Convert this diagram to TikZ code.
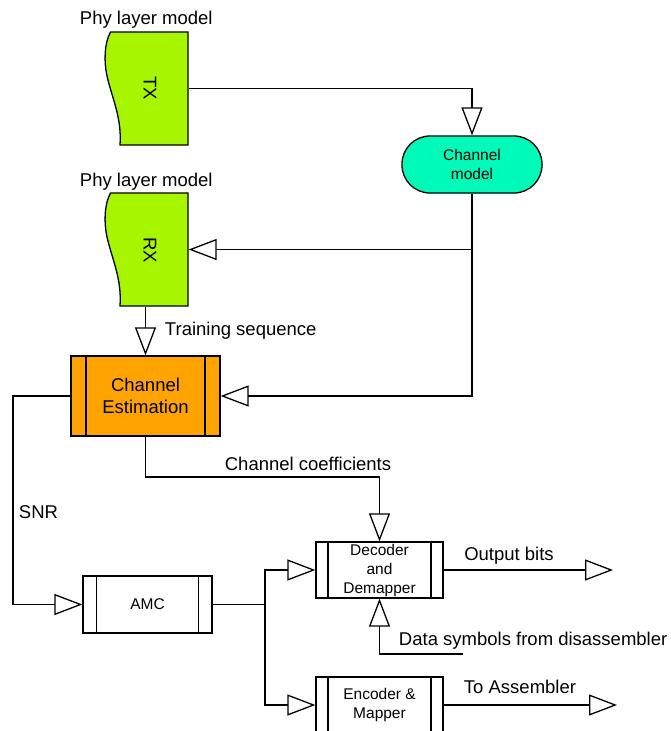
\documentclass[tikz,border=0pt]{standalone}
\usepackage{fontspec}
\setmainfont{Liberation Sans}
\usetikzlibrary{arrows.meta}
\definecolor{phygreen}{RGB}{168,245,0}
\definecolor{chanteal}{RGB}{0,250,185}
\definecolor{estorange}{RGB}{255,163,0}
\begin{document}
\begin{tikzpicture}[x=1pt,y=-1pt,line width=1.3pt,
  big/.style={font=\fontsize{18.5}{21.7}\selectfont},
  small/.style={font=\fontsize{15.5}{19}\selectfont},
  arr/.style={-{Triangle[open,length=28pt,width=21pt,line width=1.3pt]}},
  procbox/.style={draw, inner sep=0pt, align=center,
    path picture={\draw
      ([xshift=#1]path picture bounding box.north west) -- ([xshift=#1]path picture bounding box.south west)
      ([xshift=-#1]path picture bounding box.north east) -- ([xshift=-#1]path picture bounding box.south east);}},
  phytape/.pic={\draw[fill=phygreen]
      (110.5,0) -- (188,0) -- (188,113) -- (120,113)
      .. controls (122,86) and (112,66) .. (107,44)
      .. controls (104,30) and (104,12) .. cycle;}
]
\useasboundingbox (0,0) rectangle (670,731);
\clip (0,0) rectangle (670,731);

% physical layer blocks
\pic at (0,32) {phytape};
\pic at (0,193) {phytape};
\node[minimum width=78pt, minimum height=113pt, inner sep=0pt] (tx) at (149,88.5) {};
\node[minimum width=78pt, minimum height=113pt, inner sep=0pt] (rx) at (149,249.5) {};
\node[big, rotate=-90] (txlbl) at (150,88) {TX};
\node[big, rotate=-90] (rxlbl) at (150,250) {RX};
\node[big, anchor=west] (phy1) at (76,20) {Phy layer model};
\node[big, anchor=west] (phy2) at (76,182) {Phy layer model};

% channel model
\node[draw, fill=chanteal, rounded corners=28pt, minimum width=140pt, minimum height=57pt,
      inner sep=0pt, small, align=center] (cm) at (472,164.5) {Channel\\model};

% processing blocks
\node[procbox=15pt, fill=estorange, minimum width=149pt, minimum height=80pt, big] (ce) at (145.5,396) {Channel\\Estimation};
\node[procbox=13.5pt, minimum width=129pt, minimum height=57pt, small] (amc) at (147.5,604.5) {AMC};
\node[procbox=12pt, minimum width=127pt, minimum height=56pt, small] (dec) at (379.5,570) {Decoder\\and\\Demapper};
\node[procbox=12pt, minimum width=127pt, minimum height=56pt, small] (enc) at (379.5,705) {Encoder \&\\Mapper};

% connectors
\draw[arr] (tx.east) -| (cm.north);
\draw[arr] (cm.south) |- (ce.east);
\draw[arr] (cm.south |- rx.east) -- (rx.east);
\draw[arr] (ce.north |- rx.south) -- (ce.north);
\node[big, anchor=west] (train) at (161,331) {Training sequence};

\coordinate (snrcorner) at (13,396);
\draw[arr] (ce.west) -- (snrcorner) |- (amc.west);
\node[big, anchor=west] (snr) at (15,512) {SNR};

\coordinate (coefcorner) at (145.5,477);
\draw[arr] (ce.south) -- (coefcorner) -| (dec.north);
\node[big] (coef) at (308,464) {Channel coefficients};

\coordinate (split) at (265,604.5);
\draw (amc.east) -- (split);
\draw[arr] (split) |- (dec.west);
\draw[arr] (split) |- (enc.west);

\coordinate (outbits) at (613,570);
\draw[arr] (dec.east) -- (outbits);
\node[big] (outlbl) at (509,556) {Output bits};

\coordinate (dsyms) at (463,654);
\draw[arr] (dsyms) -| (dec.south);
\node[big, anchor=west] (dslbl) at (395,641) {Data symbols from disassembler};

\coordinate (toasm) at (617,705);
\draw[arr] (enc.east) -- (toasm);
\node[big] (asmlbl) at (520,687) {To Assembler};
\end{tikzpicture}
\end{document}
